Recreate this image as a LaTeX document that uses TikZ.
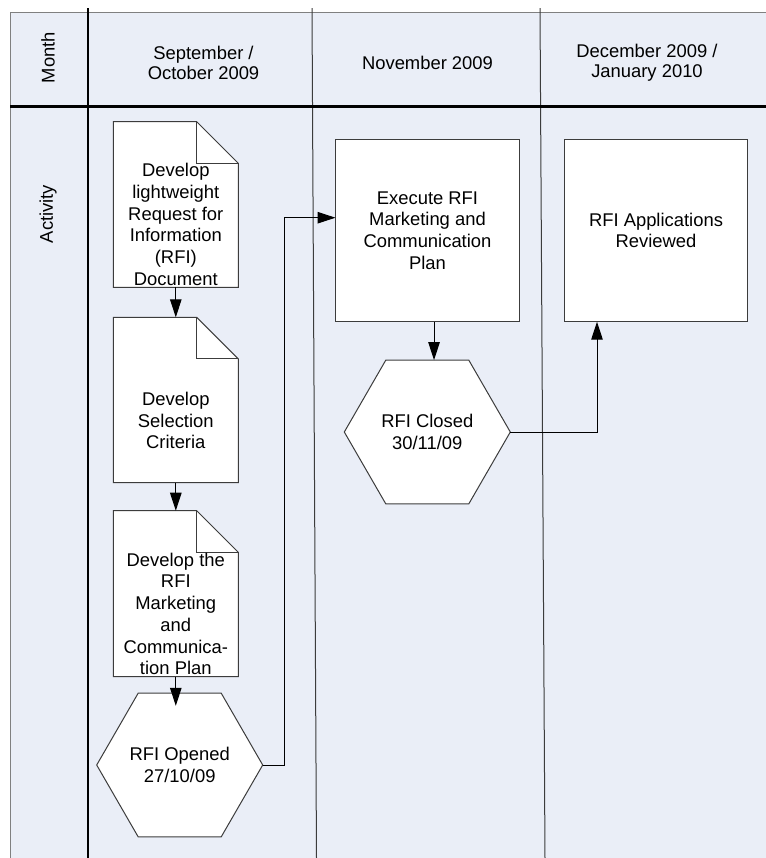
\documentclass[tikz,border=0pt]{standalone}
\usepackage{fontspec}
\setmainfont{Liberation Sans}
\usetikzlibrary{arrows.meta,shapes.geometric}
\definecolor{lanebg}{RGB}{234,238,247}
\definecolor{edgegray}{RGB}{128,128,128}
\definecolor{shapeline}{RGB}{60,60,60}
\newcommand\mydocshape[1]{%
  \draw[shapeline, line width=0.75pt, fill=white]
    (#1.south west) -- (#1.north west) -- ([xshift=-31.2pt]#1.north east)
    -- ([yshift=-31.2pt]#1.north east) -- (#1.south east) -- cycle;
  \draw[shapeline, line width=0.75pt]
    ([xshift=-31.2pt]#1.north east) |- ([yshift=-31.2pt]#1.north east);}
\begin{document}
\begin{tikzpicture}[x=0.75pt,y=-0.75pt,
  txt/.style={font=\fontsize{13.8}{16.3}\selectfont, align=center, inner sep=0},
  hdr/.style={font=\fontsize{13.8}{15}\selectfont, align=center, inner sep=0},
  docbox/.style={minimum width=125*0.75pt, inner sep=0, outer sep=0},
  procbox/.style={draw=shapeline, fill=white, line width=0.75pt, inner sep=0, outer sep=0,
    font=\fontsize{13.8}{16.3}\selectfont, align=center},
  hexbox/.style={regular polygon, regular polygon sides=6, minimum size=166*0.75pt,
    draw=shapeline, fill=white, line width=0.75pt, inner sep=0, outer sep=0,
    font=\fontsize{13.8}{16.3}\selectfont, align=center},
  arr/.style={-{Triangle[length=18*0.75pt,width=11.5*0.75pt]}, line width=0.75pt, black},
  thinsep/.style={shapeline, line width=0.75pt},
  thicksep/.style={black, line width=2pt},
]
\useasboundingbox (0,0) rectangle (766,858);
% lane background and grid
\fill[lanebg] (10,12) rectangle (766,858);
\draw[edgegray, line width=0.75pt] (10,858) -- (10,12) -- (766,12);
\draw[thinsep] (312,8) -- (316.5,858);
\draw[thinsep] (540,8) -- (545,858);
\draw[thicksep] (10,106.7) -- (766,106.7);
\draw[thicksep] (88,8) -- (88,858);

% headers
\node[hdr, rotate=90] (month) at (48,57.5) {Month};
\node[hdr, rotate=90] (activity) at (48,214) {Activity};
\node[hdr] (col1) at (203.5,63) {September /\\October 2009};
\node[hdr] (col2) at (427.5,63) {November 2009};
\node[hdr] (col3) at (647,63) {December 2009 /\\January 2010};

% documents
\node[docbox, minimum height=165.6*0.75pt] (d1) at (175.8,204.5) {};
\mydocshape{d1}
\node[txt] (d1t) at (175.8,224.5) {Develop\\lightweight\\Request for\\Information\\(RFI)\\Document};

\node[docbox, minimum height=165.4*0.75pt] (d2) at (175.8,400) {};
\mydocshape{d2}
\node[txt] (d2t) at (175.8,420.5) {Develop\\Selection\\Criteria};

\node[docbox, minimum height=166*0.75pt] (d3) at (175.8,593.7) {};
\mydocshape{d3}
\node[txt] (d3t) at (175.8,614) {Develop the\\RFI\\Marketing\\and\\Communica-\\tion Plan};

% hexagons
\node[hexbox] (h1) at (179.7,765) {RFI Opened\\27/10/09};
\node[hexbox] (h2) at (427.3,432) {RFI Closed\\30/11/09};

% process boxes
\node[procbox, minimum width=184*0.75pt, minimum height=182.4*0.75pt] (b1) at (427.5,230.5)
  {Execute RFI\\Marketing and\\Communication\\Plan};
\node[procbox, minimum width=183.4*0.75pt, minimum height=182.4*0.75pt] (b2) at (656,230.5)
  {RFI Applications\\Reviewed};

% connectors
\draw[arr] (d1.south) -- (d2.north);
\draw[arr] (d2.south) -- (d3.north);
\draw[arr, shorten >=-12.7*0.75pt] (d3.south) -- (d3.south |- h1.north);
\draw[arr] (h1.east) -- ++(21.3,0) |- ([yshift=9.6pt]b1.west);
\draw[arr] ([xshift=4.9pt]b1.south) -- ([xshift=4.9pt]b1.south |- h2.north);
\draw[arr] (h2.east) -| ([xshift=-44.25pt]b2.south);
\end{tikzpicture}
\end{document}
